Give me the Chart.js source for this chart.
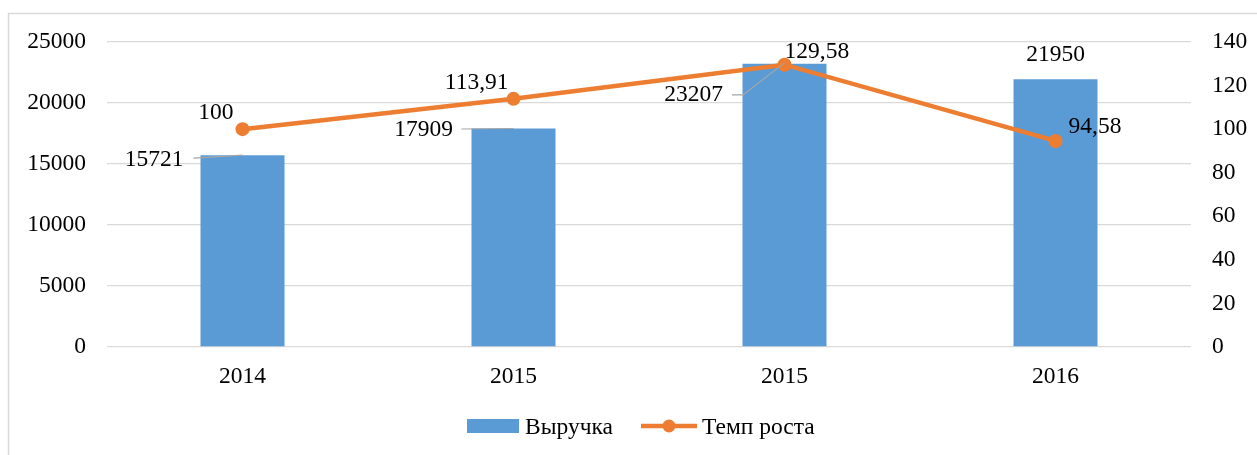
<!DOCTYPE html>
<html>
<head>
<meta charset="utf-8">
<script src="https://cdn.jsdelivr.net/npm/chart.js@4/dist/chart.umd.min.js"></script>
<style>
  html, body { margin: 0; padding: 0; background: #fff; }
  #wrap { position: relative; width: 1257px; height: 455px; }
</style>
</head>
<body>
<div id="wrap"><canvas id="c"></canvas></div>
<script>
// ---- data ----
const categories = ['2014', '2015', '2015', '2016'];
const revenue = [15721, 17909, 23207, 21950];
const growth = [100, 113.91, 129.58, 94.58];
const seriesNames = ['Выручка', 'Темп роста'];
const leftTickValues = [0, 5000, 10000, 15000, 20000, 25000];
const rightTickValues = [0, 20, 40, 60, 80, 100, 120, 140];

// ---- style ----
const BLUE = '#5B9BD5';
const ORANGE = '#ED7D31';
const GRID = '#d9d9d9';
const FS = 23.5;
const FAMILY = '"Liberation Serif", "Times New Roman", serif';
const FONT = FS + 'px ' + FAMILY;

const fmt = v => String(v).replace('.', ',');

const extras = {
  id: 'extras',
  beforeDraw(chart) {
    const ctx = chart.ctx;
    ctx.save();
    ctx.strokeStyle = GRID;
    ctx.lineWidth = 1.5;
    ctx.beginPath();
    ctx.moveTo(8.5, chart.height);
    ctx.lineTo(8.5, 13.5);
    ctx.lineTo(chart.width, 13.5);
    ctx.stroke();
    ctx.restore();
  },
  afterDatasetsDraw(chart) {
    const ctx = chart.ctx;
    const bars = chart.getDatasetMeta(0).data;
    const pts = chart.getDatasetMeta(1).data;
    ctx.save();
    ctx.font = FONT;
    ctx.fillStyle = '#000';
    ctx.textBaseline = 'middle';
    ctx.strokeStyle = '#a6a6a6';
    ctx.lineWidth = 1.2;

    // bar value labels
    const b0 = bars[0], b1 = bars[1], b2 = bars[2], b3 = bars[3];
    // 0
    ctx.beginPath(); ctx.moveTo(b0.x - 49, b0.y + 3); ctx.lineTo(b0.x, b0.y); ctx.stroke();
    ctx.textAlign = 'right'; ctx.fillText(String(revenue[0]), b0.x - 59, b0.y + 5);
    // 1
    ctx.beginPath(); ctx.moveTo(b1.x - 52, b1.y + 0.5); ctx.lineTo(b1.x, b1.y); ctx.stroke();
    ctx.fillText(String(revenue[1]), b1.x - 60.5, b1.y + 1.5);
    // 2
    ctx.beginPath();
    ctx.moveTo(b2.x - 52.5, b2.y + 31); ctx.lineTo(b2.x - 41.5, b2.y + 31); ctx.lineTo(b2.x, b2.y - 1);
    ctx.stroke();
    ctx.fillText(String(revenue[2]), b2.x - 61.5, b2.y + 31);
    // 3
    ctx.textAlign = 'center'; ctx.fillText(String(revenue[3]), b3.x, b3.y - 24);

    // line value labels
    ctx.textAlign = 'right';
    ctx.fillText(fmt(growth[0]), pts[0].x - 9, pts[0].y - 16);
    ctx.fillText(fmt(growth[1]), pts[1].x - 5, pts[1].y - 16);
    ctx.textAlign = 'left';
    ctx.fillText(fmt(growth[2]), pts[2].x, pts[2].y - 13);
    ctx.fillText(fmt(growth[3]), pts[3].x + 13, pts[3].y - 14);

    // legend
    ctx.fillStyle = BLUE;
    ctx.fillRect(467, 419, 52, 14);
    ctx.strokeStyle = ORANGE;
    ctx.lineWidth = 4.5;
    ctx.beginPath(); ctx.moveTo(641, 426); ctx.lineTo(697, 426); ctx.stroke();
    ctx.fillStyle = ORANGE;
    ctx.beginPath(); ctx.arc(669, 426, 6.5, 0, Math.PI * 2); ctx.fill();
    ctx.fillStyle = '#000';
    ctx.textAlign = 'left';
    ctx.fillText(seriesNames[0], 525, 428);
    ctx.fillText(seriesNames[1], 702, 428);
    ctx.restore();
  }
};

new Chart(document.getElementById('c'), {
  type: 'bar',
  data: {
    labels: categories,
    datasets: [
      {
        type: 'bar',
        label: seriesNames[0],
        data: revenue,
        backgroundColor: BLUE,
        yAxisID: 'y',
        categoryPercentage: 1,
        barPercentage: 0.31,
        order: 2
      },
      {
        type: 'line',
        label: seriesNames[1],
        data: growth,
        borderColor: ORANGE,
        backgroundColor: ORANGE,
        borderWidth: 4.5,
        pointRadius: 7,
        pointBorderWidth: 0,
        pointBackgroundColor: ORANGE,
        tension: 0,
        yAxisID: 'y1',
        order: 1
      }
    ]
  },
  options: {
    responsive: true,
    maintainAspectRatio: false,
    animation: false,
    layout: { padding: { left: 0, right: 0, top: 42, bottom: 58 } },
    plugins: {
      legend: { display: false },
      tooltip: { enabled: false }
    },
    scales: {
      x: {
        grid: { display: false },
        border: { display: false },
        ticks: { color: '#000', font: { family: FAMILY, size: FS }, padding: 8 },
        afterFit(s) { s.height = 50; }
      },
      y: {
        position: 'left',
        min: 0, max: 25000,
        afterBuildTicks(s) { s.ticks = leftTickValues.map(v => ({ value: v })); },
        grid: { color: GRID, lineWidth: 1.3, drawTicks: false },
        border: { display: false },
        ticks: { color: '#000', font: { family: FAMILY, size: FS }, padding: 21, callback: v => String(v) },
        afterFit(s) { s.width = 107; }
      },
      y1: {
        position: 'right',
        min: 0, max: 140,
        afterBuildTicks(s) { s.ticks = rightTickValues.map(v => ({ value: v })); },
        grid: { display: false, drawTicks: false },
        border: { display: false },
        ticks: { color: '#000', font: { family: FAMILY, size: FS }, padding: 21, callback: v => String(v) },
        afterFit(s) { s.width = 66; }
      }
    }
  },
  plugins: [extras]
});
</script>
</body>
</html>
